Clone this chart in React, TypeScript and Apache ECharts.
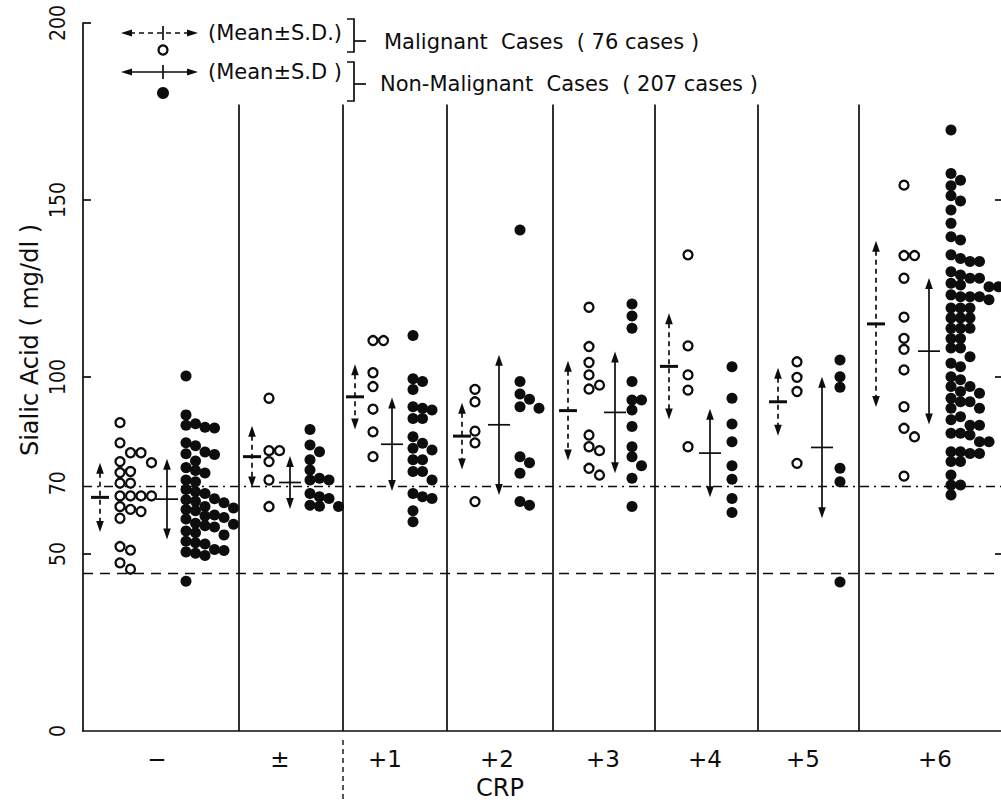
import React, { useEffect, useRef } from "react";
import * as echarts from "echarts";

// ---------------- DATA ----------------
const CRP_LABELS = ["\u2212", "\u00b1", "+1", "+2", "+3", "+4", "+5", "+6"];
const Y_LABELS = [0, 50, 70, 100, 150, 200];
const Y_TICKS = [50, 100, 150, 200];
const RIGHT_TICKS = [50, 100, 150];
const REF_DASHDOT = 69;
const REF_DASHED = 44.5;

// Malignant cases (open circles), per CRP class
const MAL_NEG = [87.1, 81.4, 78.6, 78.6, 76.1, 75.8, 73.3, 73.0, 70.0, 70.0, 66.4, 66.4, 66.4, 66.4, 63.4, 62.6, 62.0, 60.1, 52.1, 51.1, 47.5, 45.7];
const MAL_PM = [94.0, 79.2, 79.2, 76.1, 70.9, 63.4];
const MAL_P1 = [110.3, 110.3, 101.2, 97.3, 90.9, 84.5, 77.5];
const MAL_P2 = [96.5, 93.0, 84.7, 81.4, 64.8];
const MAL_P3 = [119.7, 108.6, 104.1, 100.6, 97.7, 96.6, 83.6, 80.3, 79.2, 74.2, 72.3];
const MAL_P4 = [134.5, 108.8, 100.6, 96.3, 80.3];
const MAL_P5 = [104.3, 99.9, 95.9, 75.6];
const MAL_P6 = [154.2, 134.3, 134.3, 127.9, 116.9, 110.9, 107.8, 102.0, 91.6, 85.5, 83.1, 72.0];

// Non-malignant cases (filled circles), per CRP class
const NON_NEG = [100.3, 89.3, 86.8, 86.4, 85.8, 85.6, 81.4, 80.6, 78.8, 78.3, 78.1, 76.3, 74.4, 73.6, 72.9, 70.9, 70.4, 68.2, 67.6, 67.1, 65.6, 65.3, 64.9, 64.5, 63.4, 63.0, 62.6, 62.2, 61.0, 60.7, 60.3, 59.9, 58.7, 58.4, 58.0, 57.6, 56.5, 56.0, 55.4, 53.6, 53.2, 52.8, 51.3, 51.0, 50.6, 50.2, 49.6, 42.3];
const NON_PM = [85.2, 80.8, 78.9, 76.6, 73.7, 71.4, 70.9, 70.9, 67.1, 66.2, 65.7, 63.8, 63.5, 63.4];
const NON_P1 = [111.7, 99.5, 98.7, 96.5, 91.6, 91.2, 90.7, 88.3, 88.3, 83.1, 81.3, 79.9, 79.4, 76.6, 76.6, 73.3, 73.3, 70.9, 67.1, 66.2, 65.7, 62.2, 59.1];
const NON_P2 = [141.5, 98.7, 95.2, 93.7, 91.6, 91.2, 77.5, 75.8, 72.8, 64.8, 63.8];
const NON_P3 = [120.6, 117.2, 113.8, 98.7, 93.5, 93.5, 90.7, 86.0, 80.3, 77.5, 74.9, 71.4, 63.4];
const NON_P4 = [102.9, 94.0, 86.7, 81.7, 74.9, 71.1, 65.7, 61.7];
const NON_P5 = [104.8, 100.1, 97.1, 74.2, 70.4, 42.1];
const NON_P6 = [169.8, 157.5, 155.6, 154.0, 151.2, 149.7, 147.2, 143.4, 139.6, 138.7, 134.5, 133.5, 132.6, 132.6, 129.7, 128.8, 127.9, 127.9, 126.5, 126.0, 125.5, 125.5, 123.2, 122.7, 122.7, 122.7, 121.8, 119.5, 119.5, 119.5, 116.7, 116.7, 116.7, 113.8, 113.8, 113.8, 110.9, 110.9, 108.2, 108.2, 105.7, 103.9, 102.9, 100.1, 99.2, 97.3, 97.3, 95.9, 95.4, 94.0, 93.0, 93.0, 91.2, 91.2, 88.8, 87.9, 86.4, 86.4, 84.1, 84.1, 83.6, 81.7, 81.7, 78.9, 78.9, 78.4, 78.4, 76.1, 76.1, 72.3, 69.5, 69.5, 66.7];

const MAL_MEAN = [66.0, 77.5, 94.4, 83.3, 90.5, 103.0, 93.0, 115.0];
const MAL_SD = [9.8, 8.7, 9.2, 9.4, 14.1, 15.0, 9.6, 23.5];
const NON_MEAN = [65.5, 70.2, 81.0, 86.5, 90.0, 78.5, 80.1, 107.3];
const NON_SD = [11.4, 7.5, 13.2, 19.8, 17.2, 12.5, 20.0, 20.7];

const MALIGNANT = [MAL_NEG, MAL_PM, MAL_P1, MAL_P2, MAL_P3, MAL_P4, MAL_P5, MAL_P6];
const NON_MALIGNANT = [NON_NEG, NON_PM, NON_P1, NON_P2, NON_P3, NON_P4, NON_P5, NON_P6];

// ---------------- LAYOUT ----------------
const CHART_W = 1040;
const CHART_H = 803;
const PLOT_LEFT = 83;
const PLOT_RIGHT = 1003;
const PLOT_TOP = 23;
const PLOT_BOTTOM = 731;
const Y_MAX = 200;
const SEP_TOP = 177;
const SEPARATORS_PX = [239, 343, 447, 553, 655, 758, 859];
const MAL_ARROW_PX = [100, 252, 355, 462, 568, 669, 778, 876];
const OPEN_COL_PX = [120, 269, 373, 475, 589, 688, 797, 904];
const NON_ARROW_PX = [167, 290, 392, 499, 615, 710, 822, 929];
const FILLED_COL_PX = [186, 310, 413, 520, 632, 732, 840, 951];
const LABEL_PX = [157, 280, 385, 497, 603, 705, 803, 935];
const INK = "#0d0d0d";
const FONT = "'DejaVu Sans', 'Liberation Sans', sans-serif";
const NARROW = "'Liberation Sans Narrow', 'DejaVu Sans Condensed', 'Liberation Sans', sans-serif";

const PX_PER_UNIT = (PLOT_BOTTOM - PLOT_TOP) / Y_MAX;
const toAxisX = (px: number) => px - PLOT_LEFT;

// one-sided beeswarm: dots that would overlap are pushed to the right
function swarm(values: number[], colPx: number, step: number): number[][] {
  const sorted = [...values].sort((a, b) => b - a);
  const placed: { x: number; y: number }[] = [];
  const out: number[][] = [];
  for (const v of sorted) {
    const y = v * PX_PER_UNIT;
    let k = 0;
    for (;;) {
      const x = k * step;
      if (placed.every((p) => Math.hypot(p.x - x, p.y - y) >= step - 0.01)) {
        placed.push({ x, y });
        out.push([toAxisX(colPx) + x, v]);
        break;
      }
      k++;
    }
  }
  return out;
}

function arrowSeries(name: string, data: number[][], dashed: boolean, tickW: number, tickLW: number) {
  return {
    type: "custom",
    name,
    data,
    silent: true,
    clip: false,
    encode: { x: 0, y: 1 },
    renderItem: (_params: any, api: any) => {
      const x = api.value(0);
      const m = api.value(1);
      const s = api.value(2);
      const c = api.coord([x, m]);
      const t = api.coord([x, m + s]);
      const b = api.coord([x, m - s]);
      const ah = 11;
      const aw = 3.8;
      const lineStyle: any = { stroke: INK, lineWidth: 1.7 };
      if (dashed) lineStyle.lineDash = [5, 4];
      return {
        type: "group",
        children: [
          { type: "line", shape: { x1: c[0], y1: t[1] + ah - 1, x2: c[0], y2: b[1] - ah + 1 }, style: lineStyle },
          { type: "polygon", shape: { points: [[c[0], t[1]], [c[0] - aw, t[1] + ah], [c[0] + aw, t[1] + ah]] }, style: { fill: INK } },
          { type: "polygon", shape: { points: [[c[0], b[1]], [c[0] - aw, b[1] - ah], [c[0] + aw, b[1] - ah]] }, style: { fill: INK } },
          { type: "line", shape: { x1: c[0] - tickW / 2, y1: c[1], x2: c[0] + tickW / 2, y2: c[1] }, style: { stroke: INK, lineWidth: tickLW } },
        ],
      };
    },
  };
}

function legendArrow(y: number, dashed: boolean) {
  const x1 = 121;
  const x2 = 198;
  const cx = 163;
  const ls: any = { stroke: INK, lineWidth: 1.7 };
  if (dashed) ls.lineDash = [5, 4];
  return [
    { type: "line", shape: { x1: x1 + 9, y1: y, x2: x2 - 9, y2: y }, style: ls },
    { type: "polygon", shape: { points: [[x1, y], [x1 + 11, y - 3.6], [x1 + 11, y + 3.6]] }, style: { fill: INK } },
    { type: "polygon", shape: { points: [[x2, y], [x2 - 11, y - 3.6], [x2 - 11, y + 3.6]] }, style: { fill: INK } },
    { type: "line", shape: { x1: cx, y1: y - 7, x2: cx, y2: y + 7 }, style: { stroke: INK, lineWidth: 1.7 } },
  ];
}

function legendBracket(yTop: number, yBot: number, yDash: number) {
  return [
    { type: "polyline", shape: { points: [[347, yTop], [354, yTop], [354, yBot], [347, yBot]] }, style: { stroke: INK, lineWidth: 1.7, fill: null } },
    { type: "line", shape: { x1: 354, y1: yDash, x2: 366, y2: yDash }, style: { stroke: INK, lineWidth: 1.7 } },
  ];
}

function txt(text: string, x: number, y: number, size: number, align = "left", rotation = 0, family = FONT) {
  return {
    type: "text",
    x,
    y,
    rotation,
    style: {
      text,
      fill: INK,
      fontSize: size,
      fontFamily: family,
      align,
      verticalAlign: "middle",
      textAlign: align,
      textVerticalAlign: "middle",
    },
  };
}

export default function App() {
  const ref = useRef<HTMLDivElement>(null);

  useEffect(() => {
    if (!ref.current) return;
    const chart = echarts.init(ref.current, null, { renderer: "svg" });

    const openData: number[][] = [];
    const filledData: number[][] = [];
    MALIGNANT.forEach((vals, i) => openData.push(...swarm(vals, OPEN_COL_PX[i], 10.5)));
    NON_MALIGNANT.forEach((vals, i) => filledData.push(...swarm(vals, FILLED_COL_PX[i], 9.5)));

    const malArrows = MAL_MEAN.map((m, i) => [toAxisX(MAL_ARROW_PX[i]), m, MAL_SD[i]]);
    const nonArrows = NON_MEAN.map((m, i) => [toAxisX(NON_ARROW_PX[i]), m, NON_SD[i]]);

    const labelX = LABEL_PX.map(toAxisX);

    const sepLines = SEPARATORS_PX.map((p) => [
      { coord: [toAxisX(p), 0] },
      { coord: [toAxisX(p), SEP_TOP] },
    ]);

    const option: any = {
      animation: false,
      backgroundColor: "#fff",
      grid: {
        left: PLOT_LEFT,
        right: CHART_W - PLOT_RIGHT,
        top: PLOT_TOP,
        bottom: CHART_H - PLOT_BOTTOM,
        containLabel: false,
      },
      xAxis: {
        type: "value",
        min: 0,
        max: PLOT_RIGHT - PLOT_LEFT,
        axisLine: { show: true, lineStyle: { color: INK, width: 1.7 } },
        axisTick: { show: false },
        splitLine: { show: false },
        axisLabel: {
          customValues: labelX,
          formatter: (v: number) => {
            const i = labelX.findIndex((x) => Math.abs(x - v) < 0.5);
            return i >= 0 ? CRP_LABELS[i] : "";
          },
          margin: 16,
          fontSize: 23,
          fontFamily: FONT,
          color: INK,
        },
      },
      yAxis: [
        {
          type: "value",
          min: 0,
          max: Y_MAX,
          position: "left",
          axisLine: { show: true, lineStyle: { color: INK, width: 1.7 } },
          axisTick: { show: true, inside: true, length: 8, customValues: Y_TICKS, lineStyle: { color: INK, width: 1.7 } },
          axisLabel: {
            customValues: Y_LABELS,
            rotate: 90,
            margin: 15,
            fontSize: 21,
            fontFamily: NARROW,
            color: INK,
          },
          splitLine: { show: false },
        },
        {
          type: "value",
          min: 0,
          max: Y_MAX,
          position: "right",
          axisLine: { show: true, lineStyle: { color: INK, width: 1.7 } },
          axisTick: { show: true, inside: true, length: 8, customValues: RIGHT_TICKS, lineStyle: { color: INK, width: 1.7 } },
          axisLabel: { show: false },
          splitLine: { show: false },
        },
      ],
      series: [
        {
          type: "scatter",
          name: "Malignant",
          data: openData,
          symbol: "circle",
          symbolSize: 9,
          itemStyle: { color: "#fff", borderColor: INK, borderWidth: 2.3, opacity: 1 },
          silent: true,
          z: 5,
          markLine: {
            silent: true,
            symbol: ["none", "none"],
            label: { show: false },
            data: [
              { yAxis: REF_DASHDOT, lineStyle: { color: INK, width: 1.4, type: [9, 5, 2, 5] } },
              { yAxis: REF_DASHED, lineStyle: { color: INK, width: 1.4, type: [10, 7] } },
              ...sepLines.map((l) => [
                { ...l[0], lineStyle: { color: INK, width: 1.7, type: "solid" } },
                l[1],
              ]),
            ],
          },
        },
        {
          type: "scatter",
          name: "Non-Malignant",
          data: filledData,
          symbol: "circle",
          symbolSize: 11,
          itemStyle: { color: INK, opacity: 1 },
          silent: true,
          z: 5,
        },
        arrowSeries("Malignant Mean±SD", malArrows, true, 18, 3),
        arrowSeries("Non-Malignant Mean±SD", nonArrows, false, 22, 1.7),
      ],
      graphic: {
        elements: [
          txt("Sialic Acid ( mg/dl )", 30, 340, 24, "center", Math.PI / 2),
          txt("CRP", 500, 788, 24, "center"),
          {
            type: "line",
            shape: { x1: SEPARATORS_PX[1], y1: 740, x2: SEPARATORS_PX[1], y2: 803 },
            style: { stroke: INK, lineWidth: 1.4, lineDash: [5, 4] },
          },
          ...legendArrow(33, true),
          txt("(Mean\u00b1S.D.)", 208, 33, 21),
          ...legendBracket(19, 52, 41),
          txt("Malignant  Cases  ( 76 cases )", 384, 42, 21),
          { type: "circle", shape: { cx: 163, cy: 50, r: 4.5 }, style: { fill: "#fff", stroke: INK, lineWidth: 2.3 } },
          ...legendArrow(72, false),
          txt("(Mean\u00b1S.D )", 208, 72, 21),
          ...legendBracket(62, 101, 84),
          txt("Non-Malignant  Cases  ( 207 cases )", 380, 84, 21),
          { type: "circle", shape: { cx: 163, cy: 93, r: 6 }, style: { fill: INK } },
        ],
      },
    };

    chart.setOption(option);
    return () => chart.dispose();
  }, []);

  return (
    <div
      style={{
        position: "fixed",
        left: 0,
        top: 0,
        width: 1001,
        height: 803,
        overflow: "hidden",
        background: "#fff",
      }}
    >
      <div ref={ref} style={{ width: CHART_W, height: CHART_H }} />
    </div>
  );
}
